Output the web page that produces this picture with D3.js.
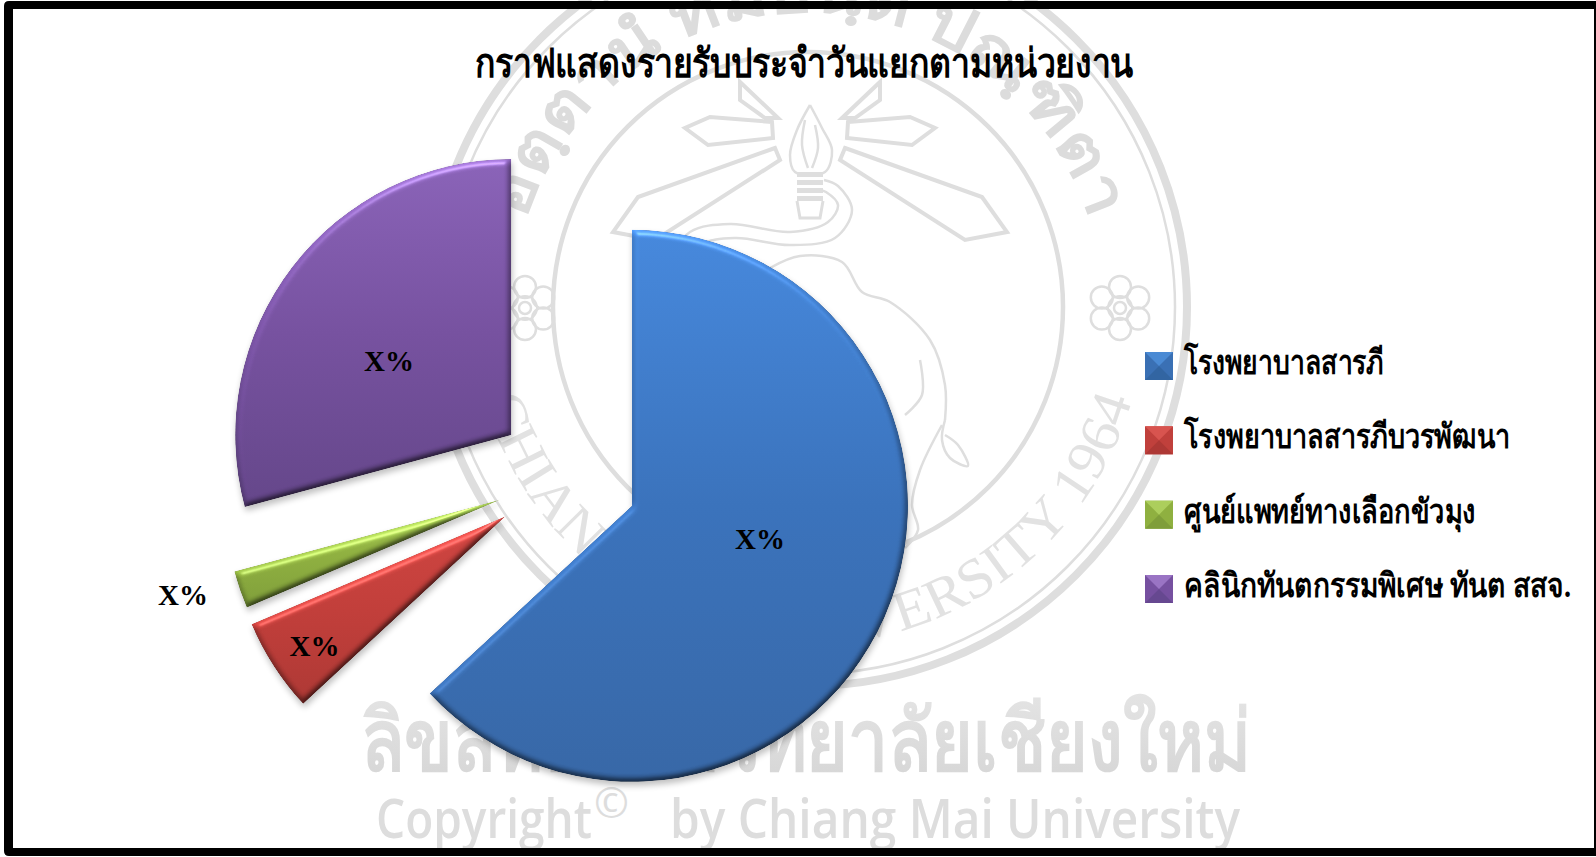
<!DOCTYPE html>
<html><head><meta charset="utf-8"><script src="https://cdn.jsdelivr.net/npm/d3@7"></script>
<style>html,body{margin:0;padding:0;background:#fff;overflow:hidden}svg{display:block}</style></head>
<body><svg id="c" width="1596" height="857"></svg>
<script>
const categories=["โรงพยาบาลสารภี","โรงพยาบาลสารภีบวรพัฒนา","ศูนย์แพทย์ทางเลือกขัวมุง","คลินิกทันตกรรมพิเศษ ทันต สสจ."];
const values=[63.1,5.5,2.2,29.2];
const labels=["X%","X%","X%","X%"];
const title="กราฟแสดงรายรับประจำวันแยกตามหน่วยงาน";
const wmThai="ลิขสิทธิ์มหาวิทยาลัยเชียงใหม่";
const wmMotto="อตฺตานํ ทมยนฺติ ปณฺฑิตา";
const wmArc="CHIANG MAI UNIVERSITY 1964";

// styling and layout (kept apart from the data)
const gradStops=[["#4688dc","#3a72bb","#3767a6"],["#cf4541","#c13e3a","#ad3834"],["#a4c855","#8fb040","#7f9e3a"],["#8a63b8","#76519f","#644689"]];
const swatch=[["#4a8ad4","#3a70b4","#3265a2"],["#d8544f","#c0403c","#ad3835"],["#acce5c","#8fb040","#7f9e3a"],["#9a74c4","#7650a0","#664890"]];
const explode=[72,72,69,69];
const labelPos=[[759,538.5],[313.5,646],[182,595],[388,361]];
const legendWidths=[199.5,326,292,387];
const grey="#dedede";
const svg=d3.select("#c");
const defs=svg.append("defs");

// bevel filter
const f=defs.append("filter").attr("id","bevel").attr("x","-10%").attr("y","-10%").attr("width","125%").attr("height","125%")
  .attr("color-interpolation-filters","sRGB");
f.append("feGaussianBlur").attr("in","SourceAlpha").attr("stdDeviation",3).attr("result","h");
f.append("feDiffuseLighting").attr("in","h").attr("surfaceScale",3.2).attr("diffuseConstant",1).attr("lighting-color","#fff").attr("result","d")
  .append("feDistantLight").attr("azimuth",250).attr("elevation",60);
f.append("feComposite").attr("in","SourceGraphic").attr("in2","d").attr("operator","arithmetic").attr("k1",1.155).attr("k2",0).attr("k3",0).attr("k4",0).attr("result","lit");
f.append("feSpecularLighting").attr("in","h").attr("surfaceScale",4).attr("specularConstant",.5).attr("specularExponent",40).attr("lighting-color","#fff").attr("result","s")
  .append("feDistantLight").attr("azimuth",265).attr("elevation",38);
f.append("feComposite").attr("in","s").attr("in2","SourceAlpha").attr("operator","in").attr("result","s2");
f.append("feComposite").attr("in","lit").attr("in2","s2").attr("operator","arithmetic").attr("k2",1).attr("k3",.5).attr("result","lit2");
f.append("feComposite").attr("in","lit2").attr("in2","SourceAlpha").attr("operator","in").attr("result","body");
f.append("feGaussianBlur").attr("in","SourceAlpha").attr("stdDeviation",3).attr("result","sb");
f.append("feOffset").attr("in","sb").attr("dx",1).attr("dy",4).attr("result","so");
f.append("feComponentTransfer").attr("in","so").attr("result","sh").append("feFuncA").attr("type","linear").attr("slope",.25);
const fm=f.append("feMerge");fm.append("feMergeNode").attr("in","sh");fm.append("feMergeNode").attr("in","body");

gradStops.forEach((s,i)=>{
  const g=defs.append("linearGradient").attr("id","g"+i).attr("x1",0).attr("y1",0).attr("x2",0).attr("y2",1);
  s.forEach((c,j)=>g.append("stop").attr("offset",j/2).attr("stop-color",c));
});
const wmG=defs.append("linearGradient").attr("id","wm").attr("x1",0).attr("y1",0).attr("x2",0).attr("y2",1);
wmG.append("stop").attr("offset",0).attr("stop-color","#e6e6e6");wmG.append("stop").attr("offset",1).attr("stop-color","#d4d4d4");

// watermark seal
const seal=svg.append("g");
const cx=808,cy=307;
[[379,8],[367,2.5],[255,4.5]].forEach(([r,w])=>seal.append("circle").attr("cx",cx).attr("cy",cy).attr("r",r).attr("fill","none").attr("stroke",grey).attr("stroke-width",w));
const pol=(r,a)=>[cx+r*Math.cos(a),cy+r*Math.sin(a)];
defs.append("path").attr("id","arcLow").attr("d",()=>{const[a,b]=pol(337,Math.PI*1.05),[c,d]=pol(337,-Math.PI*.05);return `M${a},${b}A337,337 0 1 0 ${c},${d}`});
defs.append("path").attr("id","arcTop").attr("d",()=>{const[a,b]=pol(295,Math.PI*1.02),[c,d]=pol(295,-Math.PI*.02);return `M${a},${b}A295,295 0 0 1 ${c},${d}`});
seal.append("text").attr("font-family","'Liberation Serif',serif").attr("font-size",56).attr("fill","#e2e2e2").attr("text-anchor","middle")
 .append("textPath").attr("href","#arcLow").attr("startOffset","50%").attr("textLength",870).attr("lengthAdjust","spacingAndGlyphs").text(wmArc);
seal.append("text").attr("font-family","'Liberation Serif',sans-serif").attr("font-weight","bold").attr("font-size",62).attr("fill","#dcdcdc").attr("text-anchor","middle")
 .append("textPath").attr("href","#arcTop").attr("startOffset","50%").attr("textLength",750).attr("lengthAdjust","spacingAndGlyphs").text(wmMotto);
const rays=[[[845,148],[982,197],[1007,232],[965,240],[840,160]],[[848,122],[910,117],[935,128],[912,145],[847,138]],[[842,118],[880,82],[880,100],[855,118]]];
const ln=d3.line(), cv=d3.line().curve(d3.curveCatmullRom);
rays.forEach(p=>{
  seal.append("path").attr("d",ln(p)+"Z").attr("fill","none").attr("stroke",grey).attr("stroke-width",4);
  seal.append("path").attr("d",ln(p.map(([x,y])=>[1620-x,y]))+"Z").attr("fill","none").attr("stroke",grey).attr("stroke-width",4);
});
// torch
[[[810,105],[797,130],[790,155],[795,172],[825,172],[832,150],[822,128],[810,105]],
 [[805,120],[802,145],[808,168]],[[815,125],[818,148],[812,168]]].forEach(p=>seal.append("path").attr("d",cv(p)).attr("fill","none").attr("stroke",grey).attr("stroke-width",2.5));
[172,180,188,196].forEach(y=>seal.append("rect").attr("x",797).attr("y",y).attr("width",26).attr("height",5).attr("fill",grey));
seal.append("path").attr("d",ln([[797,201],[800,218],[820,218],[823,201]])).attr("fill","none").attr("stroke",grey).attr("stroke-width",3);
// serpent and elephant outline
[[[665,265],[690,232],[730,224],[790,232],[828,222],[838,205],[826,192],[820,190]],
 [[680,275],[700,245],[735,238],[790,245],[835,238],[852,210],[838,186],[824,180]],
 [[770,268],[800,256],[842,262],[862,292],[890,302],[930,340],[945,385],[945,420]],
 [[945,420],[942,440],[950,458],[968,466],[958,445],[945,435]],
 [[942,425],[920,470],[912,505],[918,530],[905,548]],
 [[920,360],[922,395],[905,415]]].forEach(p=>seal.append("path").attr("d",cv(p)).attr("fill","none").attr("stroke",grey).attr("stroke-width",2.5));
// flowers
[[1120,308],[525,308]].forEach(([x,y])=>{
  const s=seal.append("g").attr("transform",`translate(${x},${y})`).attr("fill","none").attr("stroke",grey).attr("stroke-width",2.5);
  s.append("circle").attr("r",6);s.append("circle").attr("r",12).attr("stroke-width",2);
  d3.range(6).forEach(k=>{const a=k*Math.PI/3-Math.PI/2;s.append("circle").attr("cx",21*Math.cos(a)).attr("cy",21*Math.sin(a)).attr("r",11)});
});
// watermark lines of text
svg.append("text").attr("x",361).attr("y",770).attr("font-size",84).attr("font-weight","bold").attr("fill","url(#wm)").attr("font-family","'Noto Sans',sans-serif")
  .attr("textLength",890).attr("lengthAdjust","spacingAndGlyphs").text(wmThai);
const cw=svg.append("g").attr("font-family","'Open Sans',sans-serif").attr("font-weight",600).attr("fill","#dddddd").attr("font-size",54);
cw.append("text").attr("x",376).attr("y",838).attr("textLength",216).attr("lengthAdjust","spacingAndGlyphs").text("Copyright");
cw.append("text").attr("x",594).attr("y",818).attr("font-size",42).attr("font-weight",400).text("©");
cw.append("text").attr("x",670).attr("y",838).attr("textLength",570).attr("lengthAdjust","spacingAndGlyphs").text("by Chiang Mai University");

// frame
svg.append("path").attr("fill","#000").attr("fill-rule","evenodd")
  .attr("d","M9,1H1596V856H9Q4,856 4,851V6Q4,1 9,1ZM13,9V848H1594V9Z");

// title
svg.append("text").attr("x",804).attr("y",77).attr("text-anchor","middle").attr("font-size",40).attr("font-weight","bold").attr("font-family","'Liberation Serif',serif")
  .attr("textLength",658).attr("lengthAdjust","spacingAndGlyphs").text(title);

// pie
const radius=d3.scaleLinear().domain([0,1]).range([0,276]);
const arc=d3.arc().innerRadius(radius(0)).outerRadius(radius(1));
const pie=d3.pie().sort(null)(values);
const g=svg.append("g").attr("transform","translate(566,477)");
g.selectAll("path").data(pie).join("path").attr("d",arc).attr("fill",(d,i)=>`url(#g${i})`).attr("filter","url(#bevel)")
  .attr("transform",(d,i)=>{const m=(d.startAngle+d.endAngle)/2;return `translate(${explode[i]*Math.sin(m)},${-explode[i]*Math.cos(m)})`});
labels.forEach((t,i)=>svg.append("text").attr("x",labelPos[i][0]+1).attr("y",labelPos[i][1]+10).attr("text-anchor","middle").attr("font-size",29).attr("font-weight","bold").attr("font-family","'Liberation Serif',serif").text(t));

// legend
const legY=d3.scaleLinear().domain([0,3]).range([352,575]);
categories.forEach((c,i)=>{
  const x=1145,y=legY(i),s=28,m=[x+s/2,y+s/2],sw=swatch[i];
  svg.append("rect").attr("x",x).attr("y",y).attr("width",s).attr("height",s).attr("fill",sw[1]);
  svg.append("path").attr("d",ln([[x,y],[x+s,y],m])+"Z").attr("fill",sw[0]);
  svg.append("path").attr("d",ln([[x,y+s],m,[x+s,y+s]])+"Z").attr("fill",sw[2]);
  svg.append("text").attr("x",1184).attr("y",y+22).attr("font-size",34).attr("font-weight","bold").attr("font-family","'Liberation Serif',serif")
    .attr("textLength",legendWidths[i]).attr("lengthAdjust","spacingAndGlyphs").text(c);
});
</script></body></html>
